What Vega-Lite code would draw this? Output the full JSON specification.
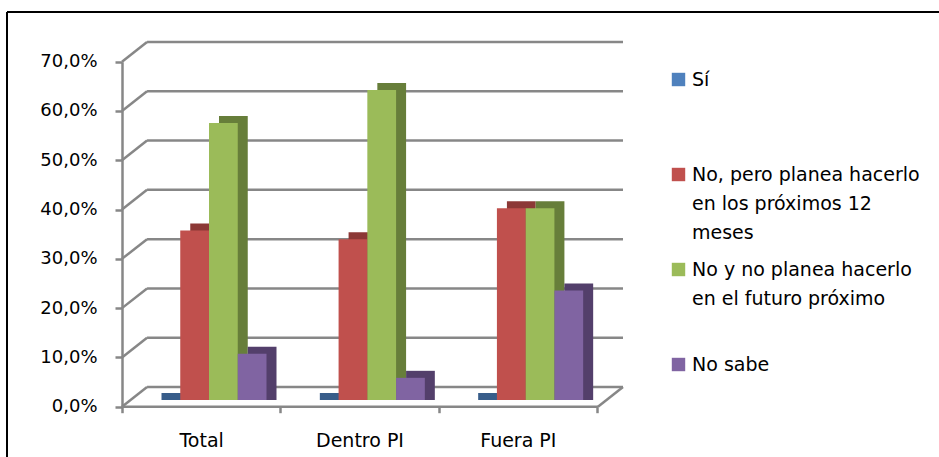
{
  "$schema": "https://vega.github.io/schema/vega-lite/v6.json",
  "width": 932,
  "height": 445,
  "autosize": "none",
  "padding": {"left": 7, "top": 12, "right": 0, "bottom": 0},
  "background": "white",
  "config": {
    "view": {"stroke": "black", "strokeWidth": 2, "strokeDash": [932, 1377, 445, 0]},
    "font": "DejaVu Sans",
    "axis": {"labelFont": "DejaVu Sans", "labelColor": "#000000"},
    "legend": {"labelFont": "DejaVu Sans", "labelColor": "#000000"}
  },
  "datasets": {
    "bars": [
      {"cat": "Total", "serie": "Sí", "val": 0},
      {"cat": "Total", "serie": "No, pero planea hacerlo en los próximos 12 meses", "val": 0.344},
      {"cat": "Total", "serie": "No y no planea hacerlo en el futuro próximo", "val": 0.562},
      {"cat": "Total", "serie": "No sabe", "val": 0.094},
      {"cat": "Dentro PI", "serie": "Sí", "val": 0},
      {"cat": "Dentro PI", "serie": "No, pero planea hacerlo en los próximos 12 meses", "val": 0.326},
      {"cat": "Dentro PI", "serie": "No y no planea hacerlo en el futuro próximo", "val": 0.629},
      {"cat": "Dentro PI", "serie": "No sabe", "val": 0.045},
      {"cat": "Fuera PI", "serie": "Sí", "val": 0},
      {"cat": "Fuera PI", "serie": "No, pero planea hacerlo en los próximos 12 meses", "val": 0.389},
      {"cat": "Fuera PI", "serie": "No y no planea hacerlo en el futuro próximo", "val": 0.389},
      {"cat": "Fuera PI", "serie": "No sabe", "val": 0.222}
    ],
    "grid": [{"v": 0}, {"v": 0.1}, {"v": 0.2}, {"v": 0.3}, {"v": 0.4}, {"v": 0.5}, {"v": 0.6}, {"v": 0.7}]
  },
  "layer": [
    {
      "data": {"name": "grid"},
      "layer": [
        {
          "mark": {"type": "rule", "color": "#878787", "strokeWidth": 2.5, "yOffset": -19.7, "y2Offset": -19.7},
          "encoding": {
            "x": {"datum": 5, "type": "quantitative", "scale": {"domain": [0, 100], "range": [115, 616]}, "axis": null},
            "x2": {"datum": 100},
            "y": {
              "field": "v", "type": "quantitative",
              "scale": {"domain": [0, 0.7], "range": [394.7, 49.7]},
              "axis": {
                "orient": "left", "offset": -115, "values": [0, 0.1, 0.2, 0.3, 0.4, 0.5, 0.6, 0.7],
                "labelExpr": "replace(format(datum.value, '.1%'), '.', ',')",
                "labelFontSize": 18, "labelPadding": 18, "tickSize": 7, "tickColor": "#878787", "tickWidth": 2.5,
                "domainColor": "#878787", "domainWidth": 2.5, "grid": false, "title": null
              }
            }
          }
        },
        {
          "mark": {"type": "rule", "color": "#878787", "strokeWidth": 2.5, "y2Offset": -19.7},
          "encoding": {
            "x": {"datum": 0, "type": "quantitative"},
            "x2": {"datum": 5},
            "y": {"field": "v", "type": "quantitative"},
            "y2": {"field": "v"}
          }
        },
        {
          "data": {"values": [{"v": 0}]},
          "mark": {"type": "rule", "color": "#878787", "strokeWidth": 2.5},
          "encoding": {
            "x": {"datum": 0, "type": "quantitative"},
            "x2": {"datum": 95},
            "y": {"field": "v", "type": "quantitative"}
          }
        },
        {
          "data": {"values": [{"v": 0}]},
          "mark": {"type": "rule", "color": "#878787", "strokeWidth": 2.5, "y2Offset": -19.7},
          "encoding": {
            "x": {"datum": 95, "type": "quantitative"},
            "x2": {"datum": 100},
            "y": {"field": "v", "type": "quantitative"},
            "y2": {"field": "v"}
          }
        }
      ]
    },
    {
      "data": {"name": "bars"},
      "encoding": {
        "x": {
          "field": "cat", "type": "nominal",
          "scale": {"domain": ["Total", "Dentro PI", "Fuera PI"], "range": [115, 590], "paddingInner": 0, "paddingOuter": 0},
          "axis": {
            "orient": "bottom", "offset": -50.3, "title": null, "labelAngle": 0, "domain": false,
            "tickBand": "extent", "tickSize": 6, "tickColor": "#878787", "tickWidth": 2.5,
            "labelFontSize": 19, "labelPadding": 19
          }
        },
        "y": {
          "field": "val", "type": "quantitative",
          "scale": {"domain": [0, 0.7], "range": [388, 43]},
          "axis": null
        }
      },
      "layer": [
        {
          "mark": {"type": "bar", "yOffset": -7, "y2Offset": 0},
          "encoding": {
            "y2": {"datum": 0},
            "xOffset": {
              "field": "serie", "type": "nominal",
              "scale": {"domain": ["Sí", "No, pero planea hacerlo en los próximos 12 meses", "No y no planea hacerlo en el futuro próximo", "No sabe"], "range": [39.5, 154.5], "paddingInner": 0, "paddingOuter": 0}
            },
            "color": {
              "field": "serie", "type": "nominal", "legend": null,
              "scale": {"domain": ["Sí", "No, pero planea hacerlo en los próximos 12 meses", "No y no planea hacerlo en el futuro próximo", "No sabe"], "range": ["#385d8a", "#8c3836", "#677e3a", "#533f6b"]}
            }
          }
        },
        {
          "mark": {"type": "bar"},
          "encoding": {
            "xOffset": {
              "field": "serie", "type": "nominal",
              "scale": {"domain": ["Sí", "No, pero planea hacerlo en los próximos 12 meses", "No y no planea hacerlo en el futuro próximo", "No sabe"], "range": [29.5, 144.5], "paddingInner": 0, "paddingOuter": 0}
            },
            "color": {
              "field": "serie", "type": "nominal",
              "scale": {"domain": ["Sí", "No, pero planea hacerlo en los próximos 12 meses", "No y no planea hacerlo en el futuro próximo", "No sabe"], "range": ["#4f81bd", "#c0504d", "#9bbb59", "#8064a2"]},
              "legend": {
                "orient": "none", "legendX": 662, "legendY": 58, "title": null,
                "symbolType": "square", "symbolSize": 180, "symbolStrokeWidth": 0,
                "labelFontSize": 19, "labelBaseline": "alphabetic", "labelLimit": 500, "labelOffset": 4,
                "gridAlign": "all", "rowPadding": 17, "padding": 0,
                "labelExpr": "datum.label == 'No, pero planea hacerlo en los próximos 12 meses' ? ['No, pero planea hacerlo', 'en los próximos 12', 'meses'] : datum.label == 'No y no planea hacerlo en el futuro próximo' ? ['No y no planea hacerlo', 'en el futuro próximo'] : datum.label",
                "encode": {"labels": {"update": {"lineHeight": {"value": 29}, "dy": {"value": 6}}}}
              }
            }
          }
        }
      ],
      "resolve": {"scale": {"color": "independent", "xOffset": "independent"}}
    }
  ],
  "resolve": {"scale": {"x": "independent", "y": "independent"}, "axis": {"x": "independent", "y": "independent"}}
}
